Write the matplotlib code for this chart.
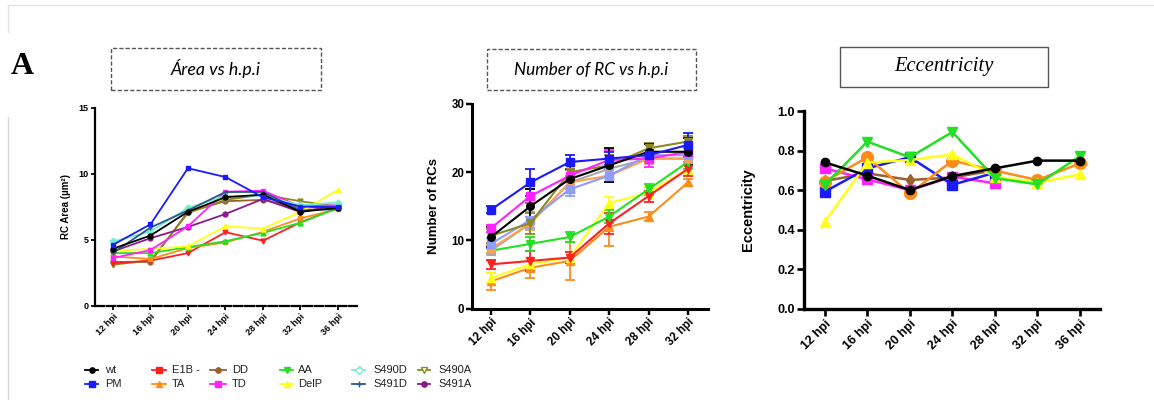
import matplotlib
matplotlib.use("Agg")
import matplotlib.pyplot as plt
from matplotlib.patches import Rectangle
from matplotlib.lines import Line2D

W, H = 1154, 400

# ---------------- data ----------------
series_names = ["wt", "PM", "E1B -", "TA", "DD", "TD", "AA", "DelP", "S490D", "S491D", "S490A", "S491A"]
colors = {"wt": "#000000", "PM": "#1a1aff", "E1B -": "#ff2020", "TA": "#ff8c1a", "DD": "#9a6030",
          "TD": "#ff22ff", "AA": "#22e022", "DelP": "#ffff1a", "S490D": "#70f0d0", "S491D": "#2a5a8a",
          "S490A": "#8a8a20", "S491A": "#8b1a8b"}
legend_markers = {"wt": "o", "PM": "s", "E1B -": "s", "TA": "^", "DD": "o", "TD": "s", "AA": "v",
                  "DelP": "^", "S490D": "D", "S491D": "+", "S490A": "v", "S491A": "o"}

# Panel A: RC area (um^2), 12..36 hpi
hpi_a = ["12 hpi", "16 hpi", "20 hpi", "24 hpi", "28 hpi", "32 hpi", "36 hpi"]
area_wt = [4.3, 5.3, 7.1, 8.2, 8.4, 7.1, 7.4]
area_pm = [4.6, 6.15, 10.4, 9.73, 8.2, 7.5, 7.45]
area_e1b = [3.2, 3.4, 3.97, 5.55, 4.91, 6.3, 7.4]
area_ta = [3.72, 3.52, 4.36, 4.78, 5.58, 6.6, 7.3]
area_dd = [3.3, 3.3, 7.1, 7.9, 8.0, 7.4, 7.5]
area_td = [3.6, 4.2, 6.0, 8.62, 8.7, 7.5, 7.6]
area_aa = [3.97, 3.97, 4.42, 4.87, 5.5, 6.27, 7.4]
area_delp = [4.15, 4.28, 4.48, 6.0, 5.83, 7.1, 8.75]
area_s490d = [4.85, 5.6, 7.4, 8.3, 8.3, 7.6, 7.8]
area_s491d = [4.0, 5.9, 7.2, 8.6, 8.6, 7.2, 7.3]
area_s490a = [3.1, 3.4, 7.0, 8.0, 8.4, 7.9, 7.5]
area_s491a = [4.1, 5.1, 5.95, 6.93, 8.07, 7.08, 7.6]

# Panel B: number of RCs (mean, sem), 12..32 hpi
hpi_b = ["12 hpi", "16 hpi", "20 hpi", "24 hpi", "28 hpi", "32 hpi"]
num_ta = [4.0, 6.0, 7.0, 12.0, 13.5, 18.5]
err_ta = [1.3, 1.5, 2.8, 2.8, 0.6, 0.5]
num_delp = [4.5, 6.5, 7.5, 15.5, 17.0, 20.5]
err_delp = [0.8, 1.0, 0.8, 0.8, 0.8, 0.8]
num_e1b = [6.5, 7.0, 7.5, 12.5, 16.5, 20.5]
err_e1b = [0.7, 1.5, 0.8, 1.5, 0.8, 1.0]
num_aa = [8.5, 9.5, 10.5, 13.5, 17.5, 21.5]
err_aa = [0.4, 1.0, 0.7, 1.0, 0.8, 1.0]
num_dd = [8.5, 12.5, 18.5, 20.5, 22.0, 22.0]
err_dd = [0.6, 1.0, 1.0, 1.0, 0.8, 0.8]
num_taup = [8.8, 12.5, 18.5, 19.5, 22.0, 22.0]
err_taup = [0.6, 1.0, 1.0, 1.0, 0.6, 0.6]
num_s491d = [9.5, 13.0, 17.5, 19.5, 22.5, 22.5]
err_s491d = [0.8, 1.2, 1.0, 1.0, 0.8, 1.0]
num_s490a = [10.7, 12.5, 20.0, 21.0, 23.5, 24.5]
err_s490a = [1.0, 1.5, 1.2, 1.5, 0.8, 0.8]
num_td = [11.8, 16.5, 19.5, 21.8, 22.0, 23.0]
err_td = [0.5, 1.0, 0.8, 1.5, 1.2, 0.8]
num_wt = [10.5, 15.0, 19.0, 21.0, 23.0, 23.0]
err_wt = [1.5, 2.5, 2.0, 2.5, 1.2, 2.0]
num_pm = [14.5, 18.5, 21.5, 22.0, 22.5, 24.0]
err_pm = [0.5, 2.0, 1.0, 1.0, 0.8, 1.8]

# Panel C: eccentricity
hpi_c = ["12 hpi", "16 hpi", "20 hpi", "24 hpi", "28 hpi", "32 hpi", "36 hpi"]
ecc_dd = [0.646, 0.685, 0.651, 0.664, 0.70]
ecc_td = [0.71, 0.654, 0.60, 0.668, 0.634]
ecc_pm = [0.592, 0.71, 0.766, 0.627, 0.688]
ecc_ta = [0.643, 0.766, 0.583, 0.749, 0.698, 0.651, 0.735]
ecc_delp = [0.44, 0.739, 0.752, 0.781, 0.668, 0.637, 0.68]
ecc_aa = [0.627, 0.845, 0.766, 0.894, 0.66, 0.629, 0.772]
ecc_wt = [0.74, 0.673, 0.60, 0.671, 0.71, 0.749, 0.749]

# ---------------- figure ----------------
fig = plt.figure(figsize=(W / 100, H / 100), dpi=100)
fig.patch.set_facecolor("white")
SANS = "Liberation Sans"


def px_axes(left, right, top, bottom):
    return fig.add_axes([left / W, 1 - bottom / H, (right - left) / W, (bottom - top) / H])


def fx(x):
    return x / W


def fy(y):
    return 1 - y / H


# page frame lines
fig.add_artist(Line2D([fx(8), fx(1154)], [fy(5), fy(5)], color="#e4e4e4", lw=1))
fig.add_artist(Line2D([fx(8), fx(8)], [fy(5), fy(32)], color="#e4e4e4", lw=1))
fig.add_artist(Line2D([fx(8), fx(8)], [fy(117), fy(400)], color="#d8d8d8", lw=1))

fig.text(fx(11), fy(74), "A", family="Liberation Serif", weight="bold", fontsize=23, va="baseline")


def title_box(l, r, t, b, text, dashed, **kw):
    rect = Rectangle((fx(l), fy(b)), fx(r) - fx(l), fy(t) - fy(b), transform=fig.transFigure,
                     facecolor="white", edgecolor="#555555", lw=1.0,
                     linestyle=(0, (3, 1.5)) if dashed else "-")
    fig.add_artist(rect)
    fig.text((fx(l) + fx(r)) / 2, (fy(t) + fy(b)) / 2, text, ha="center", va="center", **kw)


title_box(111, 321, 48, 90, "Área vs h.p.i", True, family="Lato", style="italic", fontsize=12.8)
title_box(487, 696, 49, 90, "Number of RC vs h.p.i", True, family="Lato", style="italic", fontsize=12.3)
title_box(840, 1048, 47, 87, "Eccentricity", False, family="Liberation Serif", style="italic", fontsize=14.8)


def style_axes(ax, lw, ticksize, ticklen):
    for s in ["top", "right"]:
        ax.spines[s].set_visible(False)
    for s in ["left", "bottom"]:
        ax.spines[s].set_linewidth(lw)
        ax.spines[s].set_color("black")
    ax.tick_params(axis="both", width=lw * 0.8, length=ticklen, direction="out",
                   labelsize=ticksize, pad=1.5)
    for lab in ax.get_xticklabels() + ax.get_yticklabels():
        lab.set_fontweight("bold")
        lab.set_family(SANS)


# ---------------- Panel A ----------------
axA = px_axes(95, 357, 107.5, 305.5)
xa = list(range(len(hpi_a)))
area_series = [("DD", area_dd, "o"), ("S490A", area_s490a, "v"), ("E1B -", area_e1b, "v"),
               ("TA", area_ta, "s"), ("AA", area_aa, "^"), ("DelP", area_delp, "^"),
               ("S491A", area_s491a, "o"), ("TD", area_td, "s"), ("S490D", area_s490d, "D"),
               ("S491D", area_s491d, "+"), ("wt", area_wt, "o"), ("PM", area_pm, "s")]
for name, vals, m in area_series:
    axA.plot(xa, vals, color=colors[name], lw=1.3, marker=m, ms=3.5, mew=1)
axA.set_xlim(-0.48, 6.51)
axA.set_ylim(0, 15)
axA.set_yticks([0, 5, 10, 15])
axA.set_xticks(xa)
axA.set_xticklabels(hpi_a, rotation=45, ha="right", rotation_mode="anchor")
axA.set_ylabel("RC Area (µm²)", family=SANS, weight="bold", fontsize=7)
axA.yaxis.set_label_coords((71 - 95) / 262, 0.5)
style_axes(axA, 1.6, 6.5, 3)
axA.spines["bottom"].set_linestyle((0, (4, 1.2)))

# ---------------- Panel B ----------------
axB = px_axes(472, 708, 104, 308.7)
xb = list(range(len(hpi_b)))
num_series = [("TA", num_ta, err_ta, "^", colors["TA"]),
              ("DelP", num_delp, err_delp, "^", colors["DelP"]),
              ("E1B -", num_e1b, err_e1b, "v", colors["E1B -"]),
              ("AA", num_aa, err_aa, "v", colors["AA"]),
              ("DD", num_dd, err_dd, "o", "#a8a8a8"),
              ("TA2", num_taup, err_taup, "o", "#ffa24a"),
              ("S491D", num_s491d, err_s491d, "s", "#8f9cff"),
              ("S490A", num_s490a, err_s490a, "v", colors["S490A"]),
              ("TD", num_td, err_td, "s", colors["TD"]),
              ("wt", num_wt, err_wt, "o", colors["wt"]),
              ("PM", num_pm, err_pm, "s", colors["PM"])]
for name, vals, errs, m, c in num_series:
    axB.errorbar(xb, vals, yerr=errs, color=c, lw=1.5, marker=m, ms=5.5, capsize=3.5,
                 elinewidth=1.3, capthick=1.3)
axB.set_xlim(-0.48, 5.51)
axB.set_ylim(0, 30)
axB.set_yticks([0, 10, 20, 30])
axB.set_xticks(xb)
axB.set_xticklabels(hpi_b, rotation=45, ha="right", rotation_mode="anchor")
axB.set_ylabel("Number of RCs", family=SANS, weight="bold", fontsize=9.5)
axB.yaxis.set_label_coords((440 - 472) / 236, 0.5)
style_axes(axB, 2.2, 8.3, 4)

# ---------------- Panel C ----------------
axC = px_axes(804, 1100, 111, 308.7)
xc = list(range(len(hpi_c)))
ecc_series = [("DD", ecc_dd, "d", 6), ("TD", ecc_td, "s", 7), ("PM", ecc_pm, "s", 7),
              ("TA", ecc_ta, "o", 8.5), ("DelP", ecc_delp, "^", 6.5), ("AA", ecc_aa, "v", 6.5),
              ("wt", ecc_wt, "o", 6)]
for name, vals, m, ms in ecc_series:
    axC.plot(xc[:len(vals)], vals, color=colors[name], lw=1.8, marker=m, ms=ms)
axC.set_xlim(-0.49, 6.47)
axC.set_ylim(0, 1.0)
axC.set_yticks([0.0, 0.2, 0.4, 0.6, 0.8, 1.0])
axC.set_yticklabels(["0.0", "0.2", "0.4", "0.6", "0.8", "1.0"])
axC.set_xticks(xc)
axC.set_xticklabels(hpi_c, rotation=45, ha="right", rotation_mode="anchor")
axC.set_ylabel("Eccentricity", family=SANS, weight="bold", fontsize=10.5)
axC.yaxis.set_label_coords((755 - 804) / 296, 0.5)
style_axes(axC, 2.4, 9, 5)

# ---------------- Legend ----------------
axL = fig.add_axes([0, 0, 1, 1], zorder=-1)
axL.set_xlim(0, W)
axL.set_ylim(H, 0)
axL.axis("off")
leg_cols = [(85, 98, 105), (152, 166, 172), (210, 226, 232), (280, 293, 298), (352, 365, 373), (418, 430, 438)]
leg_rows = [370, 384]
for i, name in enumerate(series_names):
    col, row = divmod(i, 2)
    x0, x1, xt = leg_cols[col]
    y = leg_rows[row]
    mk = legend_markers[name]
    open_m = name in ("S490D", "S490A")
    axL.plot([x0, x1], [y, y], color=colors[name], lw=1.3)
    axL.plot([(x0 + x1) / 2], [y], color=colors[name], marker=mk, ms=3.8,
             mfc="white" if open_m else colors[name], mew=1)
    axL.text(xt, y, name, family=SANS, fontsize=8, va="center", ha="left", color="#222222")

fig.savefig("out.png", dpi=100)
